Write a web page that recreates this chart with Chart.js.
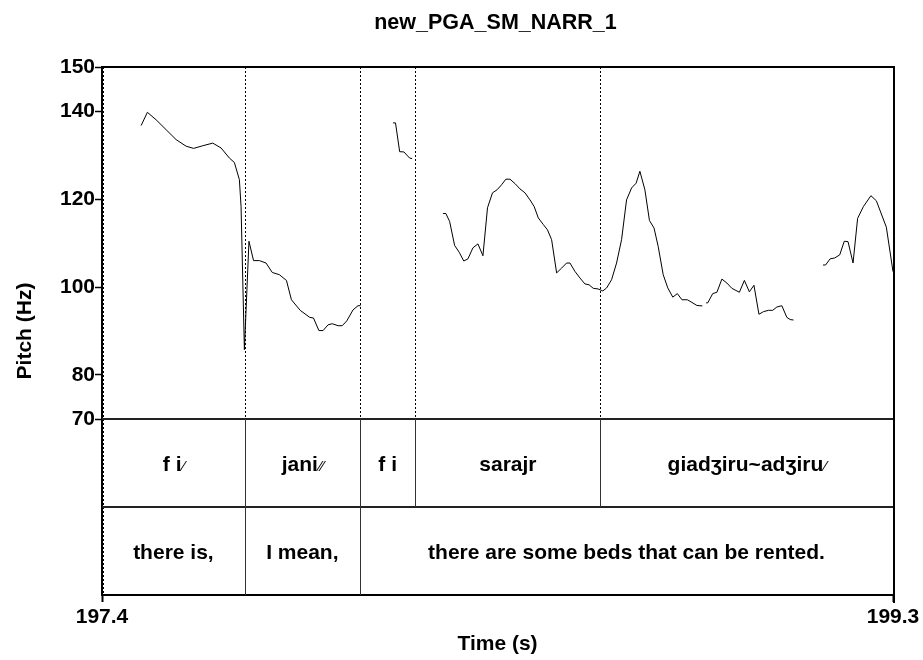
<!DOCTYPE html>
<html><head><meta charset="utf-8">
<script src="https://cdn.jsdelivr.net/npm/chart.js@4.4.1/dist/chart.umd.min.js"></script>
<style>html,body{margin:0;padding:0;background:#fff}</style>
</head><body>
<canvas id="c" width="923" height="660"></canvas>
<script>
// ---- data ----
const chartTitle = "new_PGA_SM_NARR_1";
const xTitle = "Time (s)";
const yTitle = "Pitch (Hz)";
const timeRange = [197.4, 199.3];
const pitchRange = [70, 150];
const pitchTicks = [70, 80, 100, 120, 140, 150];

const seg1Time = [197.494,197.509,197.530,197.554,197.578,197.602,197.620,197.642,197.666,197.686,197.706,197.718,197.730,197.734,197.742,197.753,197.764,197.778,197.794,197.809,197.826,197.843,197.855,197.876,197.899,197.908,197.921,197.931,197.943,197.953,197.967,197.977,197.988,198.003,198.015,198.021];
const seg1Hz   = [136.7,139.7,138.0,135.75,133.5,132.0,131.5,132.1,132.7,131.6,129.3,128.3,124.4,118.3,85.75,110.4,106.0,106.0,105.45,103.3,102.8,101.5,97.1,94.7,93.1,92.95,90.1,90.1,91.4,91.65,91.2,91.2,92.3,94.8,95.75,95.75];

const seg2Time = [198.099,198.105,198.115,198.125,198.139,198.145];
const seg2Hz   = [137.3,137.3,130.75,130.7,129.3,129.2];

const seg3Time = [198.219,198.226,198.235,198.247,198.258,198.269,198.279,198.291,198.303,198.315,198.326,198.338,198.349,198.360,198.370,198.380,198.392,198.404,198.416,198.428,198.438,198.448,198.460,198.470,198.480,198.492,198.504,198.516,198.524,198.536,198.548,198.560,198.570,198.580,198.592,198.603,198.612,198.624,198.636,198.648,198.660,198.672,198.683,198.692,198.704,198.715,198.726,198.736,198.748,198.759,198.771,198.782,198.793,198.806,198.817,198.829,198.842];
const seg3Hz   = [116.7,116.7,114.9,109.45,107.9,105.9,106.4,108.9,109.8,107.1,118.0,121.4,122.1,123.25,124.5,124.5,123.5,122.3,121.4,119.8,118.3,115.7,114.2,113.0,110.75,103.2,104.3,105.45,105.45,103.55,102.05,100.7,100.5,99.7,99.55,99.1,99.77,101.65,105.45,110.75,119.8,122.5,123.6,126.3,122.1,115.1,113.4,109.2,102.8,99.8,97.7,98.5,97.1,97.1,96.5,95.8,95.7];

const seg4Time = [198.851,198.855,198.867,198.877,198.889,198.901,198.913,198.931,198.943,198.955,198.966,198.978,198.989,199.001,199.011,199.021,199.033,199.045,199.053,199.061];
const seg4Hz   = [96.4,96.4,98.5,98.8,101.8,100.9,99.7,98.8,101.5,98.9,100.4,93.8,94.4,94.7,94.7,95.45,95.75,93.1,92.6,92.5];

const seg5Time = [199.132,199.138,199.149,199.160,199.172,199.183,199.192,199.204,199.215,199.229,199.247,199.260,199.284,199.300];
const seg5Hz   = [105.0,105.0,106.4,106.6,107.3,110.4,110.3,105.45,115.6,118.3,120.75,119.6,113.6,103.5];

const tier1Bounds = [197.743, 198.0195, 198.153, 198.597];
const tier1Labels = ["f i/", "jani//", "f i", "sarajr", "giadʒiru~adʒiru/"];
const tier2Bounds = [197.743, 198.0195];
const tier2Labels = ["there is,", "I mean,", "there are some beds that can be rented."];

// ---- layout constants (value units of the y scale used for the tier rows) ----
const TIER_MID = 50, TIER_FLOOR = 30;
const FONT = '"Liberation Sans", Arial, Helvetica, sans-serif';

const segments = [[seg1Time, seg1Hz],[seg2Time, seg2Hz],[seg3Time, seg3Hz],[seg4Time, seg4Hz],[seg5Time, seg5Hz]];
const datasets = segments.map(([t, h]) => ({
  data: t.map((v, i) => ({x: v, y: h[i]})),
  borderColor: '#000', borderWidth: 1, pointRadius: 0, tension: 0, fill: false
}));

function drawLabel(ctx, text, cx, baseY) {
  const m = text.match(/^(.*?)(\/+)$/);
  const main = m ? m[1] : text;
  const sl = m ? m[2].replace(/\//g, '⁄') : '';
  ctx.font = 'bold 21px ' + FONT;
  const w1 = ctx.measureText(main).width;
  ctx.font = '15px ' + FONT;
  const w2 = sl ? ctx.measureText(sl).width : 0;
  let x = cx - (w1 + w2) / 2;
  ctx.textAlign = 'left';
  ctx.textBaseline = 'alphabetic';
  ctx.font = 'bold 21px ' + FONT;
  ctx.fillText(main, x, baseY);
  if (sl) { ctx.font = '15px ' + FONT; ctx.fillText(sl, x + w1 + 1, baseY); }
}

const tierPlugin = {
  id: 'tiers',
  beforeDatasetsDraw(chart) {
    const ctx = chart.ctx, xs = chart.scales.x, ys = chart.scales.y;
    const top = ys.getPixelForValue(pitchRange[1]);
    const bot = ys.getPixelForValue(pitchRange[0]);
    ctx.save();
    ctx.strokeStyle = '#000';
    ctx.lineWidth = 1;
    ctx.setLineDash([2, 2]);
    [timeRange[0], ...tier1Bounds].forEach((b, i) => {
      const x = Math.round(xs.getPixelForValue(b)) + (i === 0 ? 1.5 : 0.5);
      ctx.beginPath(); ctx.moveTo(x, top); ctx.lineTo(x, i === 0 ? ys.getPixelForValue(TIER_FLOOR) : bot); ctx.stroke();
    });
    ctx.restore();
  },
  afterDatasetsDraw(chart) {
    const ctx = chart.ctx, xs = chart.scales.x, ys = chart.scales.y;
    const ca = chart.chartArea;
    const y70 = ys.getPixelForValue(pitchRange[0]);
    const y50 = ys.getPixelForValue(TIER_MID);
    const y30 = ys.getPixelForValue(TIER_FLOOR);
    const yTop = ys.getPixelForValue(pitchRange[1]);
    ctx.save();
    // tier horizontal lines
    ctx.strokeStyle = '#222'; ctx.lineWidth = 2;
    [y70, y50].forEach(y => { ctx.beginPath(); ctx.moveTo(ca.left, Math.round(y)); ctx.lineTo(ca.right, Math.round(y)); ctx.stroke(); });
    // tier verticals
    ctx.strokeStyle = '#333'; ctx.lineWidth = 1;
    tier1Bounds.forEach(b => { const x = Math.round(xs.getPixelForValue(b)) + 0.5; ctx.beginPath(); ctx.moveTo(x, y70); ctx.lineTo(x, y50); ctx.stroke(); });
    tier2Bounds.forEach(b => { const x = Math.round(xs.getPixelForValue(b)) + 0.5; ctx.beginPath(); ctx.moveTo(x, y50); ctx.lineTo(x, y30); ctx.stroke(); });
    // top and right frame
    ctx.strokeStyle = '#000'; ctx.lineWidth = 2;
    ctx.beginPath(); ctx.moveTo(ca.left, Math.round(yTop)); ctx.lineTo(ca.right + 1, Math.round(yTop)); ctx.lineTo(ca.right + 1, y30 + 8); ctx.stroke();
    // tier labels
    ctx.fillStyle = '#000';
    const edges1 = [timeRange[0], ...tier1Bounds, timeRange[1]];
    tier1Labels.forEach((lab, i) => {
      const cx = (xs.getPixelForValue(edges1[i]) + xs.getPixelForValue(edges1[i + 1])) / 2;
      drawLabel(ctx, lab, cx, (y70 + y50) / 2 + 8);
    });
    const edges2 = [timeRange[0], ...tier2Bounds, timeRange[1]];
    tier2Labels.forEach((lab, i) => {
      const cx = (xs.getPixelForValue(edges2[i]) + xs.getPixelForValue(edges2[i + 1])) / 2;
      drawLabel(ctx, lab, cx, (y50 + y30) / 2 + 8);
    });
    // titles
    const midX = (ca.left + ca.right) / 2;
    ctx.textAlign = 'center'; ctx.textBaseline = 'alphabetic';
    ctx.font = 'bold 21.5px ' + FONT;
    ctx.fillText(chartTitle, midX - 2, 28.5);
    ctx.font = 'bold 21px ' + FONT;
    ctx.fillText(xTitle, midX, 649.5);
    ctx.translate(30.5, (ca.top + ca.bottom) / 2);
    ctx.rotate(-Math.PI / 2);
    ctx.fillText(yTitle, 0, 0);
    ctx.restore();
  }
};

new Chart(document.getElementById('c'), {
  type: 'line',
  data: { datasets },
  options: {
    responsive: false, animation: false, devicePixelRatio: 1,
    layout: { padding: { top: 67, right: 30, left: 0, bottom: 0 } },
    plugins: { legend: { display: false }, title: { display: false }, tooltip: { enabled: false } },
    scales: {
      x: {
        type: 'linear', min: timeRange[0], max: timeRange[1],
        afterBuildTicks: s => { s.ticks = timeRange.map(v => ({ value: v })); },
        afterFit: s => { s.height = 65; },
        ticks: { color: '#000', font: { family: FONT, size: 21, weight: 'bold' }, padding: 3, maxRotation: 0,
                 callback: v => Number(v).toFixed(1) },
        grid: { drawOnChartArea: false, drawTicks: true, tickLength: 7, tickColor: '#000', tickWidth: 2 },
        border: { display: true, color: '#000', width: 2 }
      },
      y: {
        type: 'linear', min: TIER_FLOOR, max: pitchRange[1],
        afterBuildTicks: s => { s.ticks = pitchTicks.map(v => ({ value: v })); },
        afterFit: s => { s.width = 102; },
        ticks: { color: '#000', font: { family: FONT, size: 21, weight: 'bold' }, padding: 0 },
        grid: { drawOnChartArea: false, drawTicks: true, tickLength: 7, tickColor: '#000', tickWidth: 1.5 },
        border: { display: true, color: '#000', width: 2 }
      }
    }
  },
  plugins: [tierPlugin]
});
</script>
</body></html>
